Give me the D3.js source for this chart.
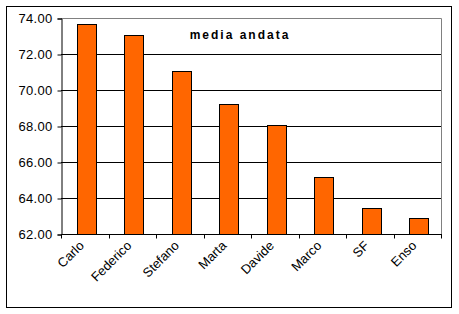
<!DOCTYPE html>
<html>
<head>
<meta charset="utf-8">
<script src="https://cdn.jsdelivr.net/npm/d3@7"></script>
<style>
  body { margin: 0; background: #fff; }
  text { font-family: "Liberation Sans", Arial, sans-serif; }
</style>
</head>
<body>
<div id="chart"></div>
<script>
// data
var names = ["Carlo", "Federico", "Stefano", "Marta", "Davide", "Marco", "SF", "Enso"]
var media = [73.65, 73.04, 71.04, 69.2, 68.06, 65.15, 63.43, 62.87]
var yTicks = [62, 64, 66, 68, 70, 72, 74]
var title = "media andata"

var W = 459, H = 314
var plot = { left: 61, top: 18, right: 441, bottom: 234 }

var svg = d3.select("#chart")
    .append("svg")
    .attr("width", W)
    .attr("height", H)

// outer frame
svg.append("rect")
    .attr("x", 6.5).attr("y", 6.5)
    .attr("width", 445).attr("height", 301)
    .attr("fill", "none")
    .attr("stroke", "#000")

var x = d3.scaleBand()
    .domain(names)
    .range([plot.left + 1.5, plot.right + 1.5])
    .paddingInner(0.6)
    .paddingOuter(0.3)

var xb = d3.scaleBand().domain(names).range([plot.left, plot.right])

var y = d3.scaleLinear()
    .domain([62, 74])
    .range([plot.bottom, plot.top])

// gridlines
svg.append("g")
    .selectAll("line")
    .data(yTicks.slice(1, -1))
    .enter()
    .append("line")
    .attr("x1", plot.left).attr("x2", plot.right)
    .attr("y1", d => Math.round(y(d)) + 0.5)
    .attr("y2", d => Math.round(y(d)) + 0.5)
    .attr("stroke", "#000")

// plot border (top/right grey)
svg.append("path")
    .attr("d", "M" + plot.left + "," + (plot.top + 0.5) + "H" + (plot.right + 0.5) + "V" + plot.bottom)
    .attr("fill", "none")
    .attr("stroke", "#808080")

// bars
svg.append("g")
    .selectAll("rect")
    .data(media)
    .enter()
    .append("rect")
    .attr("x", (d, i) => Math.round(x(names[i])) + 0.5)
    .attr("y", d => Math.round(y(d)) + 0.5)
    .attr("width", Math.round(x.bandwidth()))
    .attr("height", d => Math.round(y(62)) - Math.round(y(d)))
    .attr("fill", "#ff6600")
    .attr("stroke", "#000")

// y axis
var yAxis = svg.append("g")
    .attr("transform", "translate(" + (plot.left + 0.5) + ",0.5)")
    .call(d3.axisLeft(y).tickValues(yTicks).tickFormat(d3.format(".2f")).tickSize(4).tickPadding(5))
yAxis.selectAll("path, line").attr("stroke", "#000")
yAxis.selectAll("text")
    .style("font-size", "13px")
    .style("letter-spacing", "0.3px")
    .attr("fill", "#000")
    .attr("font-family", "Liberation Sans, Arial, sans-serif")

// x axis
var xAxis = svg.append("g")
    .attr("transform", "translate(0," + (plot.bottom + 0.5) + ")")
xAxis.append("line")
    .attr("x1", plot.left).attr("x2", plot.right + 1)
    .attr("stroke", "#000")
xAxis.selectAll(".tk")
    .data(d3.range(names.length + 1))
    .enter()
    .append("line")
    .attr("x1", i => Math.round(plot.left + i * xb.step()) + 0.5)
    .attr("x2", i => Math.round(plot.left + i * xb.step()) + 0.5)
    .attr("y1", 0).attr("y2", 4)
    .attr("stroke", "#000")
xAxis.selectAll(".lbl")
    .data(names)
    .enter()
    .append("text")
    .attr("transform", d => "translate(" + (xb(d) + xb.bandwidth() / 2) + ",12)rotate(-45)")
    .attr("text-anchor", "end")
    .style("font-size", "13px")
    .text(d => d)

// title
svg.append("text")
    .attr("x", 240)
    .attr("y", 39)
    .attr("text-anchor", "middle")
    .style("font-size", "12px")
    .style("font-weight", "bold")
    .style("letter-spacing", "2px")
    .text(title)
</script>
</body>
</html>
